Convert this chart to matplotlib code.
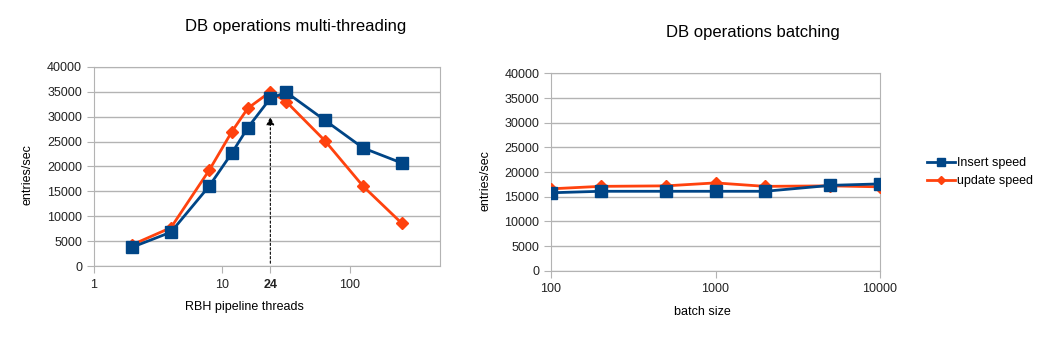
import matplotlib.pyplot as plt
from matplotlib.ticker import FixedLocator, NullLocator

plt.rcParams['font.family'] = ['Liberation Sans', 'DejaVu Sans']

# multi-threading run: threads vs throughput
threads = [2, 4, 8, 12, 16, 24, 32, 64, 128, 256]
mt_insert = [3800, 6800, 16100, 22700, 27800, 33700, 34900, 29300, 23700, 20700]
mt_update = [4300, 7700, 19300, 27000, 31700, 35000, 33000, 25200, 16000, 8600]

# batching run: batch size vs throughput
batch = [100, 200, 500, 1000, 2000, 5000, 10000]
bt_insert = [15800, 16100, 16100, 16100, 16100, 17300, 17600]
bt_update = [16600, 17100, 17200, 17800, 17100, 17200, 17000]

best_threads = 24
arrow_top = 30500

blue = '#004586'
orange = '#ff420e'
gray = '#b3b3b3'

fig = plt.figure(figsize=(10.49, 3.38), dpi=100)
ax1 = fig.add_axes([0.0896, 0.213, 0.33, 0.589])
ax2 = fig.add_axes([0.5253, 0.199, 0.3136, 0.584])


def style(ax):
    ax.set_ylim(0, 40000)
    ax.set_yticks(range(0, 40001, 5000))
    ax.yaxis.grid(True, color=gray, lw=1)
    ax.set_axisbelow(True)
    for s in ax.spines.values():
        s.set_color(gray)
    ax.tick_params(colors=gray, labelcolor='#222222', labelsize=9, length=5)
    ax.xaxis.set_minor_locator(NullLocator())
    ax.set_ylabel('entries/sec', fontsize=9, va='center')


# left chart
ax1.plot(threads, mt_update, color=orange, lw=2, marker='D', ms=6, zorder=3)
ax1.plot(threads, mt_insert, color=blue, lw=2, marker='s', ms=8, zorder=4)
ax1.set_xscale('log')
ax1.set_xlim(1, 512)
style(ax1)
ax1.xaxis.set_major_locator(FixedLocator([1, 10, best_threads, 100]))
ax1.set_xticklabels(['1', '10', str(best_threads), '100'])
ax1.get_xticklabels()[2].set_fontweight('bold')
ax1.tick_params(axis='x', pad=4)
ax1.annotate('', xy=(best_threads, arrow_top), xytext=(best_threads, 0),
             arrowprops=dict(arrowstyle='-|>', color='black', lw=0.8,
                             linestyle=(0, (2, 2)), mutation_scale=12),
             zorder=5)
ax1.set_xlabel('RBH pipeline threads', fontsize=9, va='center')
ax1.xaxis.set_label_coords(0.436, -0.206)
ax1.yaxis.set_label_coords(-0.191, 0.457)
fig.text(296 / 1049, 1 - 27 / 338, 'DB operations multi-threading',
         fontsize=12, ha='center', va='center')

# right chart
ax2.plot(batch, bt_update, color=orange, lw=2, marker='D', ms=6, zorder=3,
         label='update speed')
ax2.plot(batch, bt_insert, color=blue, lw=2, marker='s', ms=8, zorder=4,
         label='Insert speed')
ax2.set_xscale('log')
ax2.set_xlim(100, 10000)
style(ax2)
ax2.xaxis.set_major_locator(FixedLocator([100, 1000, 10000]))
ax2.set_xticklabels(['100', '1000', '10000'])
ax2.tick_params(axis='x', pad=4)
ax2.set_xlabel('batch size', fontsize=9, va='center')
ax2.xaxis.set_label_coords(0.459, -0.208)
ax2.yaxis.set_label_coords(-0.2006, 0.456)
fig.text(753 / 1049, 1 - 32 / 338, 'DB operations batching',
         fontsize=12, ha='center', va='center')

h, l = ax2.get_legend_handles_labels()
fig.legend(h[::-1], l[::-1], loc='center left', bbox_to_anchor=(0.8837, 0.491),
           frameon=False, fontsize=9, handlelength=2.2, handletextpad=0.2,
           labelspacing=0.5, borderaxespad=0, borderpad=0, markerscale=0.75)

fig.savefig('out.png', dpi=100)
